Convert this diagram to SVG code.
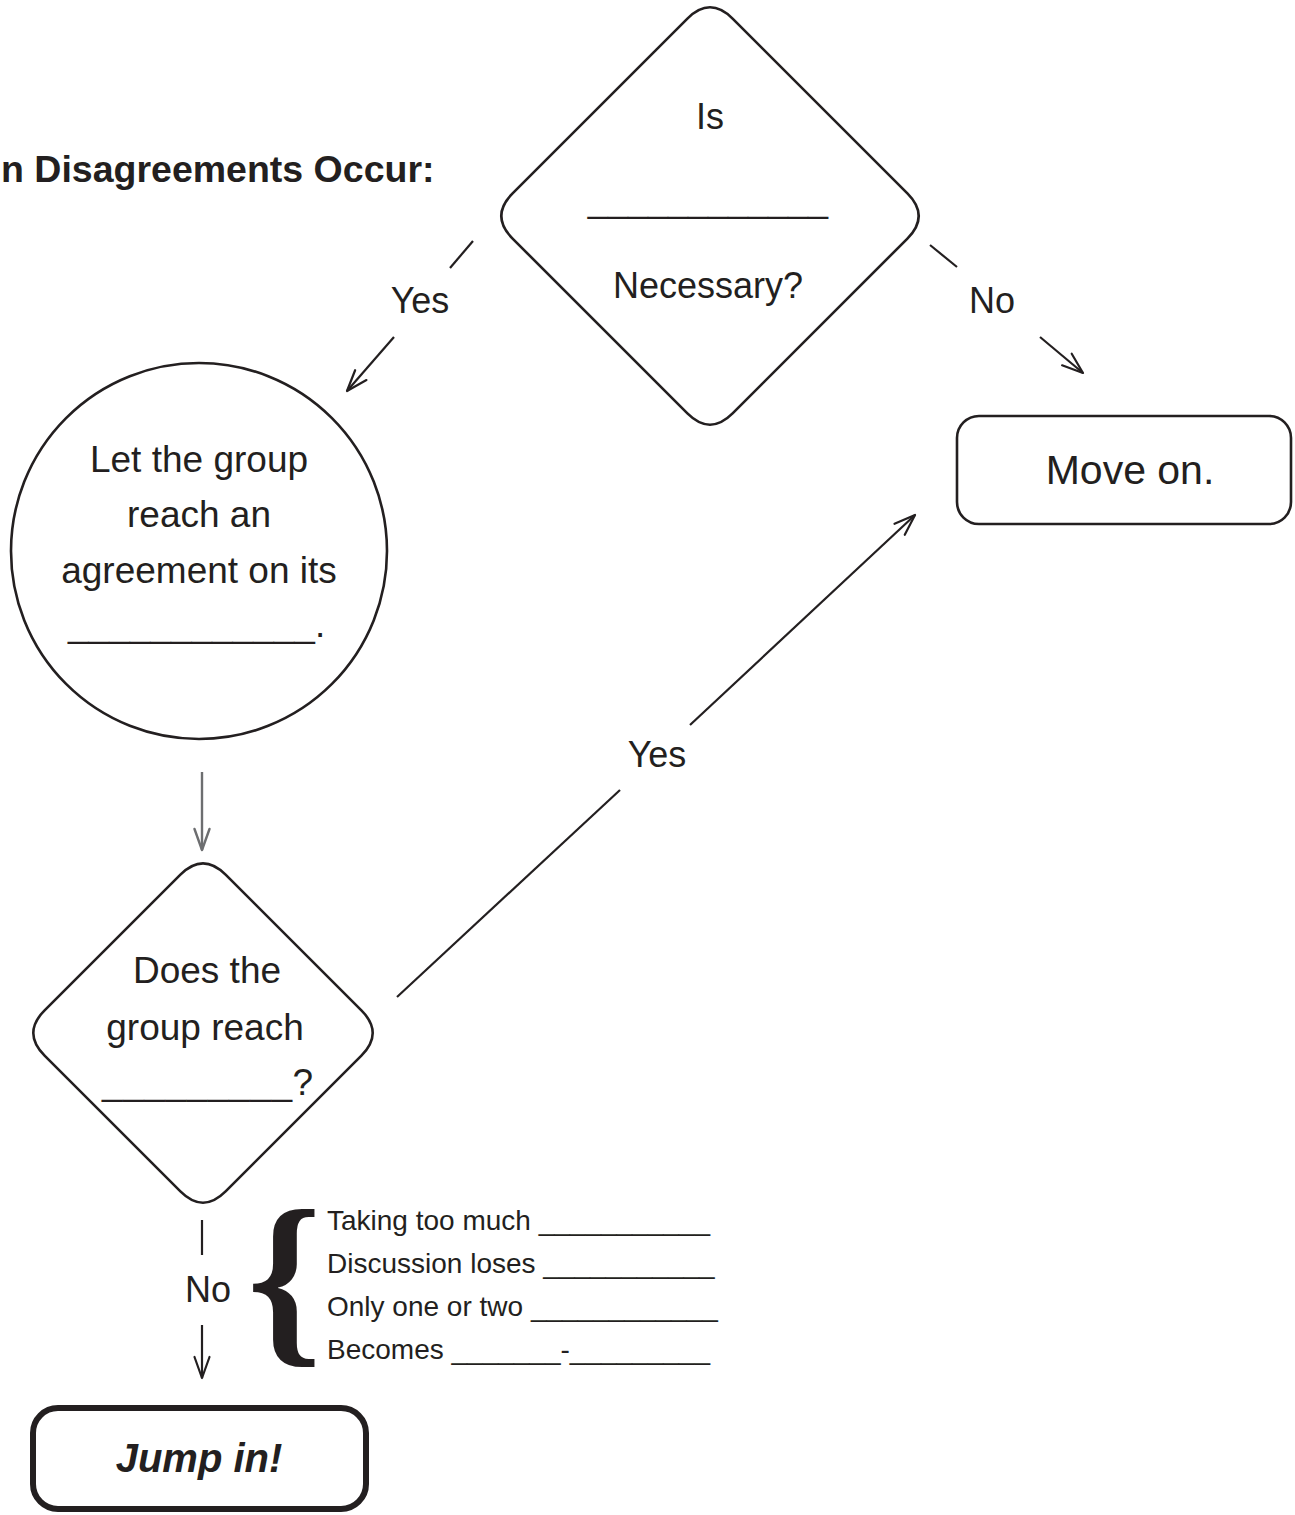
<svg xmlns="http://www.w3.org/2000/svg" width="1295" height="1515" viewBox="0 0 1295 1515">
<defs>
<style>
.t{font-family:"Liberation Sans",Arial,sans-serif;fill:#231f20}
.c{text-anchor:middle}
.shape{fill:#fff;stroke:#231f20;stroke-width:2.6}
.ln{stroke:#231f20;stroke-width:2.2;fill:none}
.gray{stroke:#6d6e70;stroke-width:2.4;fill:none}
</style>
<marker id="ah" viewBox="0 0 24 16" refX="22" refY="8" markerWidth="24" markerHeight="16" markerUnits="userSpaceOnUse" orient="auto" overflow="visible">
<path d="M1,0.5 L22,8 L1,15.5" fill="none" stroke="#231f20" stroke-width="2.2" stroke-linecap="round" stroke-linejoin="round"/>
</marker>
<marker id="ahg" viewBox="0 0 24 16" refX="22" refY="8" markerWidth="24" markerHeight="16" markerUnits="userSpaceOnUse" orient="auto" overflow="visible">
<path d="M1,0.5 L22,8 L1,15.5" fill="none" stroke="#6d6e70" stroke-width="2.4" stroke-linecap="round" stroke-linejoin="round"/>
</marker>
</defs>
<rect width="1295" height="1515" fill="#fff"/>

<text id="title" class="t" x="1" y="182" font-size="37.5" font-weight="bold">n Disagreements Occur:</text>

<g id="connectors">
<line class="ln" x1="473" y1="241" x2="450" y2="268"/>
<line class="ln" x1="394" y1="337" x2="347" y2="391" marker-end="url(#ah)"/>
<text class="t c" x="420" y="313" font-size="36">Yes</text>
<line class="ln" x1="930" y1="245" x2="957" y2="267"/>
<line class="ln" x1="1040" y1="337" x2="1083" y2="373" marker-end="url(#ah)"/>
<text class="t c" x="992" y="313" font-size="36">No</text>
<line class="gray" x1="202" y1="772" x2="202" y2="850" marker-end="url(#ahg)"/>
<line class="ln" x1="397" y1="997" x2="620" y2="790"/>
<line class="ln" x1="690" y1="725" x2="915" y2="515" marker-end="url(#ah)"/>
<text class="t c" x="657" y="767" font-size="36">Yes</text>
<line class="ln" x1="202" y1="1220" x2="202" y2="1255"/>
<text class="t c" x="208" y="1302" font-size="36">No</text>
<line class="ln" x1="202" y1="1325" x2="202" y2="1378" marker-end="url(#ah)"/>
</g>

<g id="node-necessary">
<path class="shape" d="M687.4,18.6 Q710,-4 732.6,18.6 L907.4,193.4 Q930,216 907.4,238.6 L732.6,413.4 Q710,436 687.4,413.4 L512.6,238.6 Q490,216 512.6,193.4 Z"/>
<text class="t c" x="710" y="129" font-size="36">Is</text>
<text class="t c" x="708" y="212" font-size="36">____________</text>
<text class="t c" x="708" y="298" font-size="36">Necessary?</text>
</g>

<g id="node-moveon">
<rect class="shape" x="957" y="416" width="334" height="108" rx="22"/>
<text class="t c" x="1130" y="484" font-size="41">Move on.</text>
</g>

<g id="node-agreement">
<circle class="shape" cx="199" cy="551" r="188" stroke-width="3"/>
<text class="t c" x="199" y="472" font-size="37">Let the group</text>
<text class="t c" x="199" y="527" font-size="37">reach an</text>
<text class="t c" x="199" y="583" font-size="37">agreement on its</text>
<text class="t" x="68" y="637" font-size="37">____________.</text>
</g>

<g id="node-reach">
<path class="shape" d="M180.4,874.6 Q203,852 225.6,874.6 L361.4,1010.4 Q384,1033 361.4,1055.6 L225.6,1191.4 Q203,1214 180.4,1191.4 L44.6,1055.6 Q22,1033 44.6,1010.4 Z"/>
<text class="t c" x="207" y="983" font-size="37">Does the</text>
<text class="t c" x="205" y="1040" font-size="37">group reach</text>
<text class="t" x="102" y="1095" font-size="37" letter-spacing="0.6">_________?</text>
</g>

<g id="node-reasons">
<text x="247" y="1342" font-family="'Liberation Serif','Times New Roman',serif" font-size="190" font-weight="bold" fill="#231f20">{</text>
<text class="t" x="327" y="1230" font-size="28">Taking too much ___________</text>
<text class="t" x="327" y="1273" font-size="28">Discussion loses ___________</text>
<text class="t" x="327" y="1316" font-size="28">Only one or two ____________</text>
<text class="t" x="327" y="1359" font-size="28">Becomes _______-_________</text>
</g>

<g id="node-jumpin">
<rect x="33" y="1408" width="333" height="101" rx="25" fill="#fff" stroke="#231f20" stroke-width="6"/>
<text class="t c" x="199" y="1472" font-size="40" font-weight="bold" font-style="italic">Jump in!</text>
</g>
</svg>
